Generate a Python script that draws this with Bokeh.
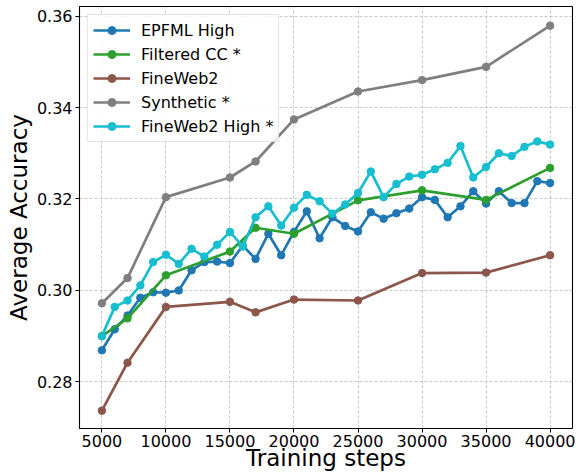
from bokeh.plotting import figure
from bokeh.models import FixedTicker, NumeralTickFormatter, Range1d, Legend, LegendItem
from bokeh.embed import file_html
from bokeh.resources import INLINE

# ---- data ----
steps_dense = [5000, 6000, 7000, 8000, 9000, 10000, 11000, 12000, 13000, 14000,
               15000, 16000, 17000, 18000, 19000, 20000, 21000, 22000, 23000, 24000,
               25000, 26000, 27000, 28000, 29000, 30000, 31000, 32000, 33000, 34000,
               35000, 36000, 37000, 38000, 39000, 40000]
steps_sparse = [5000, 7000, 10000, 15000, 17000, 20000, 25000, 30000, 35000, 40000]

epfml_high = [0.2869, 0.2915, 0.2945, 0.2984, 0.2996, 0.2995, 0.3000, 0.3044, 0.3062, 0.3063,
              0.3060, 0.3098, 0.3069, 0.3124, 0.3077, 0.3128, 0.3173, 0.3114, 0.3160, 0.3141,
              0.3129, 0.3171, 0.3157, 0.3169, 0.3179, 0.3204, 0.3198, 0.3160, 0.3184, 0.3217,
              0.3190, 0.3217, 0.3191, 0.3191, 0.3239, 0.3235]
fineweb2_high = [0.2900, 0.2964, 0.2978, 0.3011, 0.3062, 0.3078, 0.3058, 0.3091, 0.3074, 0.3100,
                 0.3128, 0.3096, 0.3160, 0.3184, 0.3142, 0.3181, 0.3209, 0.3195, 0.3168, 0.3188,
                 0.3213, 0.3260, 0.3204, 0.3233, 0.3249, 0.3253, 0.3265, 0.3279, 0.3316, 0.3247,
                 0.3270, 0.3300, 0.3294, 0.3314, 0.3326, 0.3319]
filtered_cc = [0.2900, 0.2939, 0.3033, 0.3085, 0.3137, 0.3124, 0.3197, 0.3219, 0.3198, 0.3268]
fineweb2 = [0.2737, 0.2842, 0.2964, 0.2975, 0.2952, 0.2980, 0.2978, 0.3038, 0.3039, 0.3077]
synthetic = [0.2972, 0.3027, 0.3204, 0.3247, 0.3282, 0.3374, 0.3435, 0.3460, 0.3489, 0.3579]

x_ticks = [5000, 10000, 15000, 20000, 25000, 30000, 35000, 40000]
y_ticks = [0.28, 0.30, 0.32, 0.34, 0.36]

series = [
    ("EPFML High", steps_dense, epfml_high, "#1f77b4"),
    ("Filtered CC *", steps_sparse, filtered_cc, "#2ca02c"),
    ("FineWeb2", steps_sparse, fineweb2, "#8c564b"),
    ("Synthetic *", steps_sparse, synthetic, "#7f7f7f"),
    ("FineWeb2 High *", steps_dense, fineweb2_high, "#17becf"),
]

FONT = "DejaVu Sans"

p = figure(width=577, height=474, output_backend="svg", toolbar_location=None,
           x_range=Range1d(3250, 41750), y_range=Range1d(0.2698, 0.3621),
           min_border_left=79, min_border_right=5, min_border_top=6, min_border_bottom=46)
p.background_fill_color = "white"
p.border_fill_color = "white"
p.outline_line_color = "black"
p.outline_line_width = 1.1

items = []
for name, xs, ys, col in series:
    r1 = p.line(xs, ys, line_color=col, line_width=2.7)
    r2 = p.scatter(xs, ys, size=7.5, fill_color=col, line_color=col)
    items.append(LegendItem(label=name, renderers=[r1, r2]))

for ax in (p.xaxis, p.yaxis):
    ax.major_label_text_font = FONT
    ax.major_label_text_font_size = "16px"
    ax.major_label_text_color = "black"
    ax.axis_label_text_font = FONT
    ax.axis_label_text_font_size = "23px"
    ax.axis_label_text_font_style = "normal"
    ax.axis_label_text_color = "black"
    ax.major_tick_out = 4
    ax.major_tick_in = 0
    ax.minor_tick_line_color = None
    ax.major_tick_line_color = "black"
    ax.axis_line_color = "black"

p.xaxis.ticker = FixedTicker(ticks=x_ticks)
p.yaxis.ticker = FixedTicker(ticks=y_ticks)
p.yaxis.formatter = NumeralTickFormatter(format="0.00")
p.xaxis.formatter = NumeralTickFormatter(format="0")
p.xaxis.axis_label = "Training steps"
p.yaxis.axis_label = "Average Accuracy"
p.xaxis.major_label_standoff = 2
p.xaxis.axis_label_standoff = -5
p.yaxis.major_label_standoff = 3
p.yaxis.axis_label_standoff = 2

p.xgrid.ticker = FixedTicker(ticks=x_ticks)
p.ygrid.ticker = FixedTicker(ticks=y_ticks)
for g in (p.xgrid, p.ygrid):
    g.grid_line_color = "#b0b0b0"
    g.grid_line_dash = "3 2"
    g.grid_line_alpha = 0.7
    g.grid_line_width = 1

legend = Legend(items=items, location="top_left")
legend.label_text_font = FONT
legend.label_text_font_size = "16px"
legend.label_text_color = "black"
legend.glyph_width = 37
legend.glyph_height = 20
legend.label_height = 20
legend.spacing = 4
legend.padding = 5
legend.margin = 8
legend.label_standoff = 11
legend.border_line_color = "#cccccc"
legend.border_line_width = 1
legend.background_fill_alpha = 0.85
p.add_layout(legend)

open("out.html", "w").write(file_html(p, INLINE))
